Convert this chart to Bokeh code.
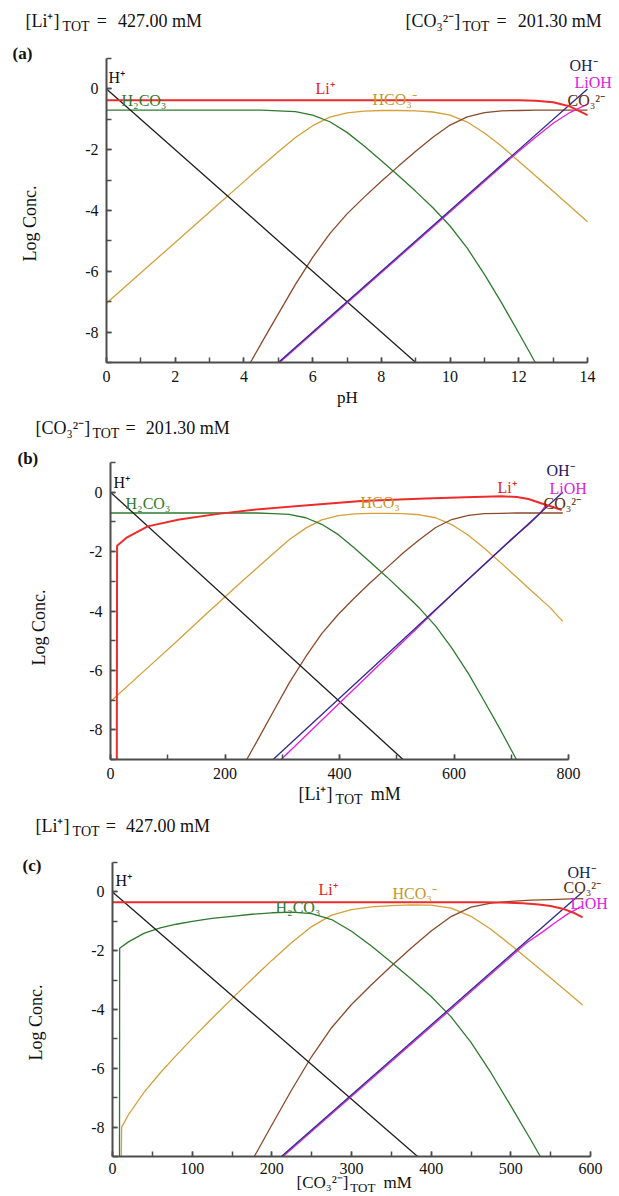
from bokeh.plotting import figure
from bokeh.layouts import column
from bokeh.models import Label, Range1d, SingleIntervalTicker
from bokeh.embed import file_html
from bokeh.resources import INLINE

# ---------------- data ----------------
# Panel (a): x = pH
a_h_x = [0, 9]
a_h = [0, -9]
a_oh_x = [5, 14]
a_oh = [-9, 0]
a_lioh_x = [5.04, 12, 12.5, 13, 13.5, 14]
a_lioh = [-9.0, -2.05, -1.58, -1.13, -0.77, -0.50]
a_li_x = [0, 12, 12.5, 13, 13.5, 14]
a_li = [-0.37, -0.37, -0.39, -0.44, -0.58, -0.86]
a_h2co3_x = [0, 4, 4.5, 5, 5.5, 6, 6.5, 7, 7.5, 8, 8.5, 9, 9.5, 10, 10.5, 11, 11.5, 12, 12.48]
a_h2co3 = [-0.70, -0.70, -0.70, -0.72, -0.75, -0.86, -1.08, -1.43, -1.88, -2.36, -2.86, -3.37, -3.91, -4.51, -5.24, -6.10, -7.04, -8.03, -9.0]
a_hco3_x = [0, 1, 2, 3, 4, 4.5, 5, 5.5, 6, 6.5, 7, 7.5, 8, 8.5, 9, 9.5, 10, 10.5, 11, 11.5, 12, 12.5, 13, 13.5, 14]
a_hco3 = [-7.05, -6.05, -5.05, -4.05, -3.05, -2.55, -2.07, -1.60, -1.21, -0.93, -0.79, -0.73, -0.71, -0.71, -0.72, -0.76, -0.86, -1.09, -1.45, -1.89, -2.38, -2.87, -3.37, -3.87, -4.37]
a_co3_x = [4.19, 4.5, 5, 5.5, 6, 6.5, 7, 7.5, 8, 8.5, 9, 9.5, 10, 10.5, 11, 11.5, 12, 12.5, 13, 13.5, 14]
a_co3 = [-9.0, -8.38, -7.40, -6.43, -5.54, -4.76, -4.11, -3.56, -3.04, -2.54, -2.05, -1.59, -1.19, -0.92, -0.78, -0.72, -0.71, -0.70, -0.70, -0.70, -0.70]

# Panel (b): x = [Li+]TOT (mM)
b_h_x = [0, 511]
b_h = [0, -9]
b_oh_x = [284, 790]
b_oh = [-9, 0]
b_lioh_x = [298, 600, 700, 730, 750, 762]
b_lioh = [-9.0, -3.38, -1.58, -1.10, -0.72, -0.40]
b_li_x = [11, 11.5, 29, 65, 120, 188, 260, 350, 438, 550, 620, 683, 710, 730, 752, 770, 788]
b_li = [-9.0, -1.8, -1.52, -1.15, -0.92, -0.73, -0.57, -0.43, -0.30, -0.21, -0.17, -0.14, -0.16, -0.23, -0.37, -0.48, -0.60]
b_h2co3_x = [0, 57, 114, 170, 227, 256, 284, 312, 341, 369, 398, 426, 454, 483, 511, 540, 568, 596, 625, 653, 682, 709]
b_h2co3 = [-0.70, -0.70, -0.70, -0.70, -0.70, -0.70, -0.72, -0.75, -0.86, -1.08, -1.43, -1.88, -2.36, -2.86, -3.37, -3.91, -4.51, -5.24, -6.10, -7.04, -8.03, -9.0]
b_hco3_x = [0, 57, 114, 170, 227, 256, 284, 312, 341, 369, 398, 426, 454, 483, 511, 540, 568, 596, 625, 653, 682, 710, 738, 767, 790]
b_hco3 = [-7.05, -6.05, -5.05, -4.05, -3.05, -2.55, -2.07, -1.60, -1.21, -0.93, -0.79, -0.73, -0.71, -0.71, -0.72, -0.76, -0.86, -1.09, -1.45, -1.89, -2.38, -2.87, -3.37, -3.87, -4.35]
b_co3_x = [238, 256, 284, 312, 341, 369, 398, 426, 454, 483, 511, 540, 568, 596, 625, 653, 682, 710, 738, 767, 790]
b_co3 = [-9.0, -8.38, -7.40, -6.43, -5.54, -4.76, -4.11, -3.56, -3.04, -2.54, -2.05, -1.59, -1.19, -0.92, -0.78, -0.72, -0.71, -0.70, -0.70, -0.70, -0.70]

# Panel (c): x = [CO3 2-]TOT (mM)
c_h_x = [0, 383]
c_h = [0, -9.0]
c_oh_x = [212, 590]
c_oh = [-9.0, 0.0]
c_lioh_x = [214, 520, 540, 555, 572, 590]
c_lioh = [-9.0, -1.73, -1.36, -1.06, -0.74, -0.48]
c_li_x = [0, 460, 490, 515, 535, 550, 565, 578, 590]
c_li = [-0.35, -0.35, -0.36, -0.39, -0.43, -0.48, -0.57, -0.70, -0.87]
c_h2co3_x = [8.8, 9, 20, 40, 60, 80, 100, 125, 150, 175, 200, 225, 250, 275, 300, 325, 350, 375, 400, 425, 450, 475, 500, 525, 537]
c_h2co3 = [-9.0, -1.92, -1.70, -1.40, -1.22, -1.10, -1.00, -0.90, -0.83, -0.76, -0.71, -0.69, -0.74, -0.94, -1.34, -1.84, -2.39, -2.96, -3.56, -4.25, -5.12, -6.15, -7.28, -8.43, -9.0]
c_hco3_x = [11, 11.5, 20, 40, 60, 80, 100, 125, 150, 175, 200, 225, 250, 275, 300, 325, 350, 375, 400, 425, 450, 475, 500, 525, 550, 575, 590]
c_hco3 = [-9.0, -8.0, -7.58, -6.80, -6.15, -5.56, -4.99, -4.30, -3.63, -2.97, -2.33, -1.72, -1.18, -0.79, -0.60, -0.51, -0.47, -0.44, -0.45, -0.55, -0.83, -1.27, -1.81, -2.37, -2.93, -3.50, -3.85]
c_co3_x = [178, 200, 225, 250, 275, 300, 325, 350, 375, 400, 425, 450, 475, 500, 525, 550, 575, 590]
c_co3 = [-9.0, -7.93, -6.73, -5.60, -4.62, -3.83, -3.16, -2.52, -1.91, -1.33, -0.84, -0.52, -0.38, -0.32, -0.28, -0.26, -0.24, -0.23]

y_tick_text = {-8: "-8", -6: "-6", -4: "-4", -2: "-2", 0: "0"}

# ---------------- styling ----------------
SERIF = "Liberation Serif"
AX = "#4d4d4d"
COL = {
    "h": "#1e1e1e", "oh": "#2a2a80", "lioh": "#e41ee4", "li": "#ee2b2b",
    "h2co3": "#2f7a2f", "hco3": "#d4a03a", "co3": "#8b4a2a",
}
LABCOL = {
    "h": "#111111", "oh": "#1a1a5e", "lioh": "#e020e0", "li": "#e82020",
    "h2co3": "#2e7a2e", "hco3": "#c8952a", "co3": "#5c2a0e",
}
FIG_L, FIG_R = 0, 615   # page x of the figure edges

# approximate advance widths (em) of the serif font, used to chain sub/superscript pieces
EM = {"[": 0.333, "]": 0.333, "L": 0.611, "i": 0.278, "⁺": 0.45, "⁻": 0.40, "C": 0.667,
      "O": 0.722, "₃": 0.35, "²": 0.30, "T": 0.611, "=": 0.564, " ": 0.25, ".": 0.25,
      "m": 0.778, "M": 0.889}


def text_width(text, size):
    return sum(EM.get(ch, 0.5) for ch in text) * size


class Panel:
    """One panel; the frame covers the whole figure so texts outside the axes stay visible.
    left/right/top/bottom are the page pixels of the plotting box (data window xr x yr)."""

    def __init__(self, xr, yr, left, right, top, bottom, fig_top, fig_bottom, xint, xstand=8):
        self.xr, self.yr = xr, yr
        self.left, self.right, self.top, self.bottom = left, right, top, bottom
        sx = (right - left) / (xr[1] - xr[0])
        sy = (bottom - top) / (yr[1] - yr[0])
        X0 = xr[0] - (left - FIG_L) / sx
        X1 = xr[1] + (FIG_R - right) / sx
        Y1 = yr[1] + (top - fig_top) / sy
        Y0 = yr[0] - (fig_bottom - bottom) / sy
        p = figure(x_range=Range1d(X0, X1), y_range=Range1d(Y0, Y1),
                   frame_width=FIG_R - FIG_L, frame_height=fig_bottom - fig_top,
                   min_border=0, toolbar_location=None, output_backend="svg", title=None)
        p.xgrid.visible = False
        p.ygrid.visible = False
        p.outline_line_color = None
        p.background_fill_color = "white"
        p.border_fill_color = "white"
        xa, ya = p.xaxis[0], p.yaxis[0]
        xa.ticker = SingleIntervalTicker(interval=xint, num_minor_ticks=2)
        ya.ticker = SingleIntervalTicker(interval=2, num_minor_ticks=2)
        xa.fixed_location = yr[0]
        ya.fixed_location = xr[0]
        xa.bounds = xr
        ya.bounds = yr
        ya.major_label_overrides = y_tick_text
        for ax in (xa, ya):
            ax.axis_line_color = AX
            ax.axis_line_width = 2
            ax.major_tick_in = 5
            ax.major_tick_out = 0
            ax.minor_tick_in = 5
            ax.minor_tick_out = 0
            ax.major_tick_line_color = AX
            ax.minor_tick_line_color = AX
            ax.major_tick_line_width = 1.5
            ax.minor_tick_line_width = 1.5
            ax.major_label_text_font = SERIF
            ax.major_label_text_font_size = "16px"
            ax.major_label_text_color = "#111111"
        xa.major_label_standoff = xstand
        ya.major_label_standoff = 8
        self.fig = p

    def to_data(self, px, py):
        x0, x1 = self.xr
        y0, y1 = self.yr
        x = x0 + (px - self.left) / (self.right - self.left) * (x1 - x0)
        y = y1 - (py - self.top) / (self.bottom - self.top) * (y1 - y0)
        return x, y

    def txt(self, px, py, text, color="#111111", size=16, bold=False, align="left", angle=0):
        x, y = self.to_data(px, py)
        self.fig.add_layout(Label(x=x, y=y, text=text, text_color=color, text_font=SERIF,
                                  text_font_size=f"{size}px",
                                  text_font_style="bold" if bold else "normal",
                                  text_align=align, text_baseline="middle",
                                  angle=angle, angle_units="deg"))

    def rich(self, px, py, parts, size=18, sub=14, dy=6):
        # parts: list of (text, is_subscript, gap_before_px), chained left to right
        for text, is_sub, gap in parts:
            fs = sub if is_sub else size
            px += gap
            self.txt(px, py + (dy if is_sub else 0), text, size=fs)
            px += text_width(text, fs)

    def line(self, xs, ys, key, width=1.3):
        self.fig.line(xs, ys, line_color=COL[key], line_width=width)


# ---------------- panel (a) ----------------
A = Panel((0, 14), (-9, 1), 106, 587, 58, 362, 0, 408, 2)
A.line(a_hco3_x, a_hco3, "hco3")
A.line(a_co3_x, a_co3, "co3")
A.line(a_h2co3_x, a_h2co3, "h2co3")
A.line(a_h_x, a_h, "h")
A.line(a_lioh_x, a_lioh, "lioh")
A.line(a_oh_x, a_oh, "oh")
A.line(a_li_x, a_li, "li", 2)
A.rich(25, 20, [("[Li⁺]", False, 0), ("TOT", True, 1), ("=", False, 7), ("427.00 mM", False, 11)])
A.rich(405, 20, [("[CO₃²⁻]", False, 0), ("TOT", True, 1), ("=", False, 7), ("201.30 mM", False, 11)])
A.txt(12, 53, "(a)", size=17, bold=True)
A.txt(29, 223, "Log Conc.", size=18, align="center", angle=90)
A.txt(347, 397, "pH", size=17, align="center")
A.txt(108, 77, "H⁺", LABCOL["h"])
A.txt(121, 100, "H₂CO₃", LABCOL["h2co3"])
A.txt(315, 88, "Li⁺", LABCOL["li"])
A.txt(372, 99, "HCO₃⁻", LABCOL["hco3"])
A.txt(569, 65, "OH⁻", LABCOL["oh"])
A.txt(574, 82, "LiOH", LABCOL["lioh"])
A.txt(567, 100, "CO₃²⁻", LABCOL["co3"])

# ---------------- panel (b) ----------------
B = Panel((0, 800), (-9, 1), 110, 568, 462, 759, 408, 808, 200)
B.line(b_hco3_x, b_hco3, "hco3")
B.line(b_co3_x, b_co3, "co3")
B.line(b_h2co3_x, b_h2co3, "h2co3")
B.line(b_h_x, b_h, "h")
B.line(b_lioh_x, b_lioh, "lioh")
B.line(b_oh_x, b_oh, "oh")
B.line(b_li_x, b_li, "li", 2)
B.rich(35, 427, [("[CO₃²⁻]", False, 0), ("TOT", True, 1), ("=", False, 6), ("201.30 mM", False, 10)])
B.txt(17, 458, "(b)", size=17, bold=True)
B.txt(38, 627, "Log Conc.", size=18, align="center", angle=90)
B.rich(298, 793, [("[Li⁺]", False, 0), ("TOT", True, 1), ("mM", False, 8)])
B.txt(113, 482, "H⁺", LABCOL["h"])
B.txt(125, 503, "H₂CO₃", LABCOL["h2co3"])
B.txt(497, 487, "Li⁺", LABCOL["li"])
B.txt(360, 502, "HCO₃⁻", LABCOL["hco3"])
B.txt(546, 470, "OH⁻", LABCOL["oh"])
B.txt(549, 488, "LiOH", LABCOL["lioh"])
B.txt(543, 503, "CO₃²⁻", LABCOL["co3"])

# ---------------- panel (c) ----------------
C = Panel((0, 600), (-9, 1), 112, 590, 862, 1156, 808, 1195, 100, xstand=6)
C.line(c_hco3_x, c_hco3, "hco3")
C.line(c_co3_x, c_co3, "co3")
C.line(c_h2co3_x, c_h2co3, "h2co3")
C.line(c_h_x, c_h, "h")
C.line(c_lioh_x, c_lioh, "lioh")
C.line(c_oh_x, c_oh, "oh")
C.line(c_li_x, c_li, "li", 2)
C.rich(35, 825, [("[Li⁺]", False, 0), ("TOT", True, 1), ("=", False, 6), ("427.00 mM", False, 10)])
C.txt(22, 865, "(c)", size=17, bold=True)
C.txt(35, 1022, "Log Conc.", size=18, align="center", angle=90)
C.rich(296, 1182, [("[CO₃²⁻]", False, 0), ("TOT", True, 1), ("mM", False, 8)], size=17, sub=13, dy=5)
C.txt(115, 880, "H⁺", LABCOL["h"])
C.txt(275, 907, "H₂CO₃", LABCOL["h2co3"])
C.txt(318, 889, "Li⁺", LABCOL["li"])
C.txt(392, 893, "HCO₃⁻", LABCOL["hco3"])
C.txt(567, 872, "OH⁻", LABCOL["oh"])
C.txt(563, 887, "CO₃²⁻", LABCOL["co3"])
C.txt(570, 903, "LiOH", LABCOL["lioh"])

layout = column(A.fig, B.fig, C.fig, spacing=0)
open("out.html", "w").write(file_html(layout, INLINE))
